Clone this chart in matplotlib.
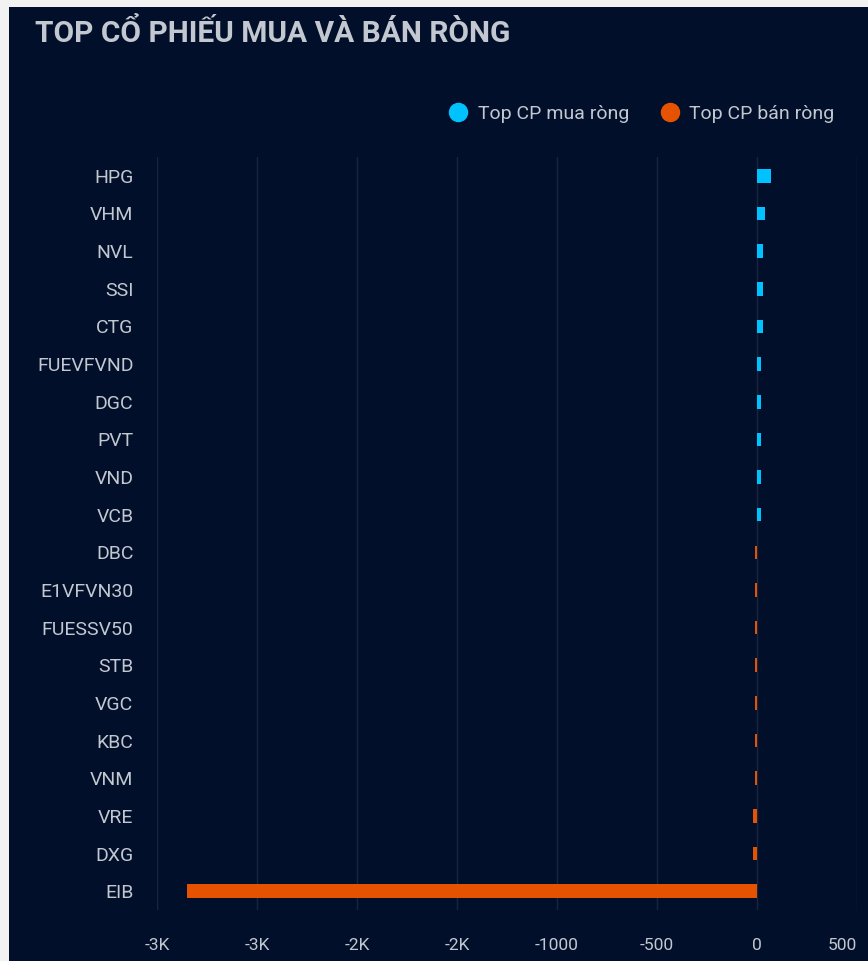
import matplotlib.pyplot as plt
from matplotlib.lines import Line2D
from matplotlib.patches import Rectangle

# data
buy_tickers = ["HPG", "VHM", "NVL", "SSI", "CTG", "FUEVFVND", "DGC", "PVT", "VND", "VCB"]
buy_values = [68, 38, 31, 30, 30, 22, 21, 21, 20, 20]
sell_tickers = ["DBC", "E1VFVN30", "FUESSV50", "STB", "VGC", "KBC", "VNM", "VRE", "DXG", "EIB"]
sell_values = [-12, -12, -12, -12, -11, -11, -11, -19, -19, -2850]

tick_values = [-3000, -2500, -2000, -1500, -1000, -500, 0, 500]
tick_labels = ["-3K", "-3K", "-2K", "-2K", "-1000", "-500", "0", "500"]

BG = "#010f2a"
GRID = "#17253f"
TXT = "#c3c8d0"
BUY_C = "#00c2ff"
SELL_C = "#e65300"
EDGE = "#f2f2f2"

plt.rcParams['font.family'] = ['Roboto', 'DejaVu Sans']

fig = plt.figure(figsize=(8.68, 9.61), dpi=100, facecolor=BG)
# light page border on the left and top
fig.patches.append(Rectangle((0, 0), 9 / 868, 1, transform=fig.transFigure,
                             facecolor=EDGE, edgecolor="none"))
fig.patches.append(Rectangle((0, 1 - 7 / 961), 1, 7 / 961, transform=fig.transFigure,
                             facecolor=EDGE, edgecolor="none"))

ax = fig.add_axes([157 / 868, 1 - 910 / 961, 700 / 868, 753 / 961])
ax.set_facecolor(BG)

tickers = buy_tickers + sell_tickers
n_buy = len(buy_tickers)
ax.barh(range(n_buy), buy_values, height=0.36, color=BUY_C, zorder=3)
ax.barh(range(n_buy, len(tickers)), sell_values, height=0.36, color=SELL_C, zorder=3)

ax.set_xlim(-3000, 500)
ax.set_ylim(len(tickers) - 0.5, -0.5)
ax.set_yticks(range(len(tickers)))
ax.set_yticklabels(tickers, fontsize=14, color=TXT)
ax.set_xticks(tick_values)
xl = ax.set_xticklabels(tick_labels, fontsize=12.5, color=TXT)
xl[-1].set_horizontalalignment("right")
ax.tick_params(axis="y", length=0, pad=17)
ax.tick_params(axis="x", length=0, pad=20)
ax.grid(axis="x", color=GRID, linewidth=1, zorder=0)
for s in ax.spines.values():
    s.set_visible(False)

fig.text(35 / 868, 1 - 33 / 961, "TOP CỔ PHIẾU MUA VÀ BÁN RÒNG", fontsize=21.5,
         fontweight="bold", color=TXT, va="center", ha="left")

handles = [
    Line2D([], [], marker="o", linestyle="none", markersize=13, color=BUY_C, label="Top CP mua ròng"),
    Line2D([], [], marker="o", linestyle="none", markersize=13, color=SELL_C, label="Top CP bán ròng"),
]
leg = fig.legend(handles=handles, loc="center right", bbox_to_anchor=(852 / 868, 1 - 114 / 961),
                 ncol=2, frameon=False, fontsize=14, handletextpad=0.5, columnspacing=1.6,
                 handlelength=1.0)
for t in leg.get_texts():
    t.set_color(TXT)

fig.savefig("out.png", dpi=100, facecolor=fig.get_facecolor())
